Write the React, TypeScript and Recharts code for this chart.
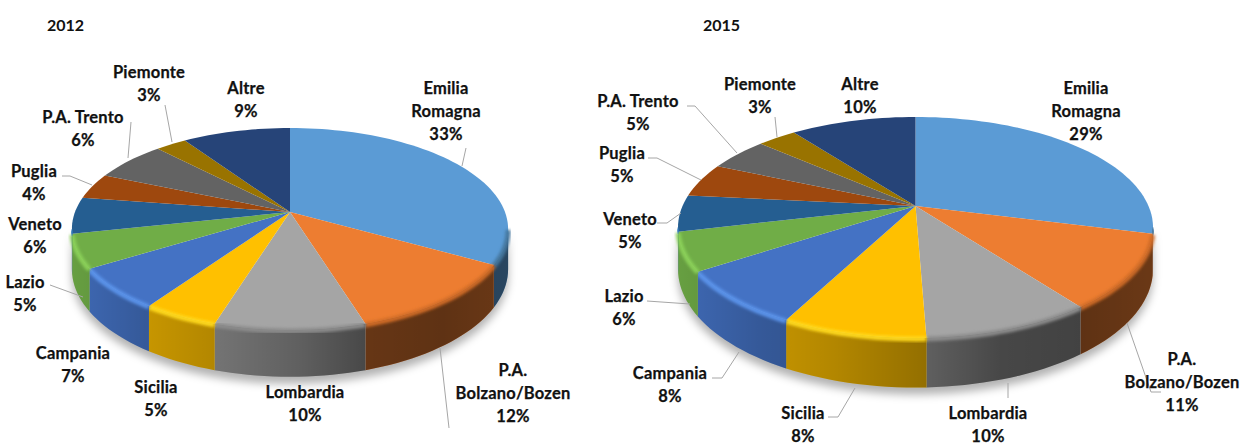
import React from 'react'
import { Pie, PieChart } from 'recharts'

const regions = ['Emilia\nRomagna', 'P.A.\nBolzano/Bozen', 'Lombardia', 'Sicilia', 'Campania', 'Lazio', 'Veneto', 'Puglia', 'P.A. Trento', 'Piemonte', 'Altre']
// labels on the chart are these rounded
const share2012 = [33.2, 12, 9.5, 4.8, 6.6, 5.4, 5.8, 4.1, 6.4, 2.7, 9.4]
const share2015 = [29, 10.8, 9.6, 8.2, 8.1, 5.6, 5.3, 5, 4.9, 3.2, 10.3]

const sliceColors = ['#5b9bd5', '#ed7d31', '#a5a5a5', '#ffc000', '#4472c4', '#70ad47', '#255e91', '#9e480e', '#636363', '#997300', '#264478']
const bevelColors = ['#44779f', '#d06c28', '#8c8c8c', '#ffd91e', '#5a93ea', '#8ad058', '#2e78bb', '#9e480e', '#636363', '#997300', '#264478']

const labelPos2012 = [[446, 89], [513, 371], [305, 393], [156, 388], [73, 354], [25, 283], [35, 225], [34, 172], [83, 118], [149, 73], [246, 89]]
const labelPos2015 = [[1086, 89], [1182, 360], [988, 414], [803, 414], [670, 374], [624, 297], [630, 220], [622, 154], [638, 102], [760, 85], [860, 85]]

const leaders2012 = [
  [[466, 148], [462, 166]],
  [[440, 348], [449, 428]],
  [],
  [],
  [],
  [[50, 285], [83, 297]],
  [],
  [[62, 176], [70, 176], [92, 185]],
  [[131, 122], [128, 158]],
  [[165, 105], [172, 142]],
  [],
]
const leaders2015 = [
  [],
  [[1127, 323], [1151, 392], [1161, 392]],
  [[1008, 383], [1008, 398]],
  [[855, 388], [838, 417], [828, 417]],
  [[739, 352], [722, 378], [712, 378]],
  [[647, 301], [690, 304]],
  [[657, 223], [667, 223], [681, 213]],
  [[648, 158], [657, 158], [701, 180]],
  [[687, 106], [695, 106], [737, 153]],
  [[775, 117], [777, 137]],
  [],
]

type Geom = { id: string; cx: number; cy: number; A: number; B: number; k: number; D: number; rx: number }

const geom2012: Geom = { id: 'p12', cx: 290, cy: 212, A: 215, B: 98.1, k: 0.168, D: 39, rx: 218 }
const geom2015: Geom = { id: 'p15', cx: 915.5, cy: 206, A: 233, B: 106.3, k: 0.194, D: 40, rx: 237.5 }

const buildRows = (shares: number[]) => shares.map((value, i) => ({ name: regions[i], value }))

// circle on the table top -> perspective image of it, theta clockwise from 12 o'clock
const project = (g: Geom, theta: number) => {
  const r = (theta * Math.PI) / 180
  const u = Math.sin(r)
  const v = -Math.cos(r)
  const den = 1 - g.k * v
  return { x: g.cx + (g.A * u) / den, y: g.cy + (g.B * v) / den, d: g.D / den }
}

const arc = (a: number, b: number) => {
  const out: number[] = []
  const n = Math.max(2, Math.ceil(Math.abs(b - a) / 2))
  for (let i = 0; i <= n; i++) out.push(a + ((b - a) * i) / n)
  return out
}

const wallPath = (g: Geom, a: number, b: number, extra = 0) => {
  const top = arc(a, b).map((t) => project(g, t))
  const bottom = [...top].reverse()
  const pts = [...top.map((p) => `${p.x},${p.y}`), ...bottom.map((p) => `${p.x},${p.y + p.d + extra}`)]
  return 'M' + pts.join('L') + 'Z'
}

const wallRange = (g: Geom) => {
  const s = (Math.acos(-g.k) * 180) / Math.PI
  return [s, 360 - s]
}

const sliceShape = (g: Geom) => (props: any) => {
  const t0 = 90 - props.startAngle
  const t1 = 90 - props.endAngle
  const i = props.index ?? regions.indexOf(props.name)
  const [ws, we] = wallRange(g)
  const a = Math.max(t0, ws)
  const b = Math.min(t1, we)
  const rim = arc(t0, t1).map((t) => project(g, t))
  const face = `M${g.cx},${g.cy}L` + rim.map((p) => `${p.x},${p.y}`).join('L') + 'Z'
  const hasWall = a < b
  const bevel = hasWall
    ? 'M' + arc(a, b).map((t) => project(g, t)).map((p) => `${p.x},${p.y + 1}`).join('L')
    : ''
  return (
    <g>
      {hasWall && <path d={wallPath(g, a, b)} fill={sliceColors[i]} />}
      {hasWall && <path d={wallPath(g, a, b)} fill={`url(#shade-${g.id})`} />}
      <path d={face} fill={sliceColors[i]} />
      {hasWall && <path d={bevel} fill="none" stroke={bevelColors[i]} strokeWidth={5} filter="url(#soft)" />}
    </g>
  )
}

const shadowShape = (g: Geom) => () => {
  const [ws, we] = wallRange(g)
  return <path d={wallPath(g, ws, we, 7)} fill="#000" fillOpacity={0.3} filter="url(#blur)" />
}

const labelRenderer = (positions: number[][], leaders: number[][][]) => (props: any) => {
  const i = props.index
  const lines = regions[i].split('\n')
  const [x, y] = positions[i]
  const share = Math.round(props.value) + '%'
  return (
    <g key={i}>
      {leaders[i].length > 0 && (
        <polyline points={leaders[i].map((p) => p.join(',')).join(' ')} fill="none" stroke="#a6a6a6" strokeWidth={1} />
      )}
      <text x={x} y={y + 5} textAnchor="middle" fontFamily="Lato" fontWeight={700} fontSize={16.5} letterSpacing={0.2} stroke="#111" strokeWidth={0.25} fill="#111">
        {[...lines, share].map((ln, k) => (
          <tspan key={k} x={x} dy={k === 0 ? 0 : 23}>{ln}</tspan>
        ))}
      </text>
    </g>
  )
}

const ShadeGradient = ({ g }: { g: Geom }) => (
  <linearGradient id={`shade-${g.id}`} gradientUnits="userSpaceOnUse" x1={g.cx - g.rx} x2={g.cx + g.rx} y1={0} y2={0}>
    <stop offset="0" stopColor="#000" stopOpacity={0.08} />
    <stop offset="0.17" stopColor="#000" stopOpacity={0.22} />
    <stop offset="0.33" stopColor="#000" stopOpacity={0.3} />
    <stop offset="0.52" stopColor="#000" stopOpacity={0.42} />
    <stop offset="0.68" stopColor="#000" stopOpacity={0.57} />
    <stop offset="0.85" stopColor="#000" stopOpacity={0.6} />
    <stop offset="1" stopColor="#000" stopOpacity={0.55} />
  </linearGradient>
)

const PiePair = (g: Geom, shares: number[], positions: number[][], leaders: number[][][]) => [
  <Pie
    key={g.id + 'shadow'}
    data={[{ name: 'shadow', value: 1 }]}
    dataKey="value"
    cx={g.cx}
    cy={g.cy}
    outerRadius={100}
    startAngle={90}
    endAngle={-270}
    stroke="none"
    isAnimationActive={false}
    shape={shadowShape(g)}
  />,
  <Pie
    key={g.id}
    data={buildRows(shares)}
    dataKey="value"
    cx={g.cx}
    cy={g.cy}
    outerRadius={100}
    startAngle={90}
    endAngle={-270}
    stroke="none"
    isAnimationActive={false}
    shape={sliceShape(g)}
    label={labelRenderer(positions, leaders)}
    labelLine={false}
  />,
]

const titleStyle: React.CSSProperties = { position: 'absolute', top: 15, font: '700 16px Lato', color: '#111' }

const App = () => {
  return (
    <div style={{ position: 'absolute', left: 0, top: 0, width: 1242, height: 446, background: '#fff' }}>
      <div style={{ ...titleStyle, left: 47 }}>2012</div>
      <div style={{ ...titleStyle, left: 703 }}>2015</div>
      <PieChart width={1242} height={446} margin={{ top: 0, right: 0, bottom: 0, left: 0 }}>
        <defs>
          <filter id="soft" x="-20%" y="-20%" width="140%" height="140%">
            <feGaussianBlur stdDeviation="1.4" />
          </filter>
          <filter id="blur" x="-10%" y="-10%" width="120%" height="130%">
            <feGaussianBlur stdDeviation="4" />
          </filter>
          <ShadeGradient g={geom2012} />
          <ShadeGradient g={geom2015} />
        </defs>
        {PiePair(geom2012, share2012, labelPos2012, leaders2012)}
        {PiePair(geom2015, share2015, labelPos2015, leaders2015)}
      </PieChart>
    </div>
  )
}

export default App
